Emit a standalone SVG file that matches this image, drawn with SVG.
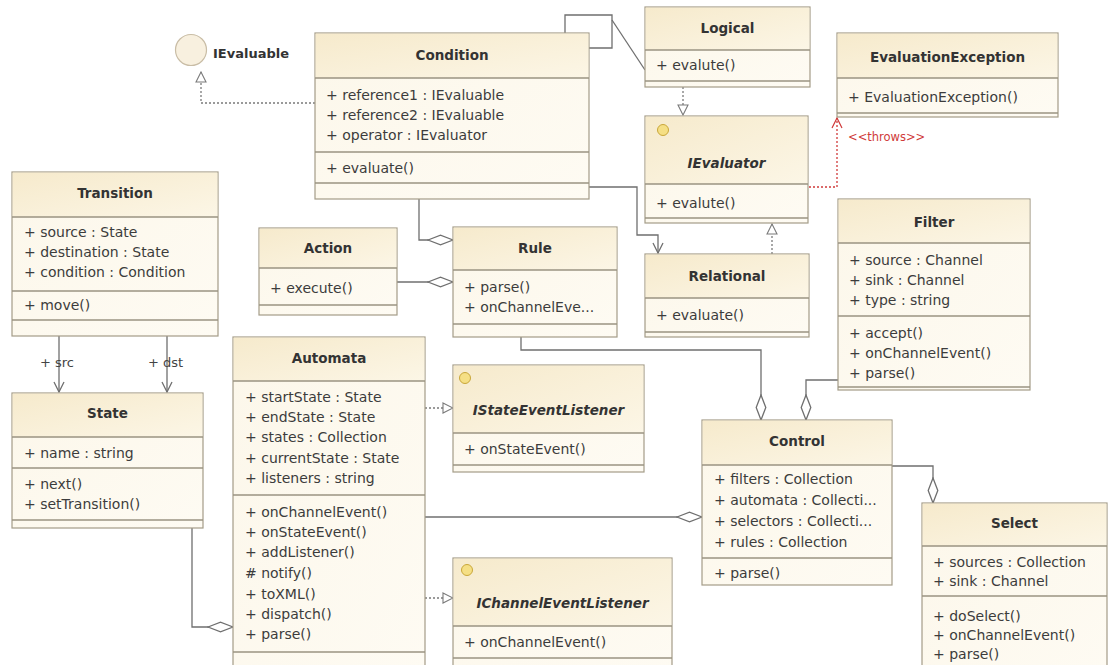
<svg xmlns="http://www.w3.org/2000/svg" width="1108" height="665" viewBox="0 0 1108 665">
<defs>
<linearGradient id="head" x1="0" y1="0" x2="1" y2="1"><stop offset="0" stop-color="#f6eacc"/><stop offset="1" stop-color="#fcf6e6"/></linearGradient>
<linearGradient id="body" x1="0" y1="0" x2="1" y2="1"><stop offset="0" stop-color="#fcf7ea"/><stop offset="1" stop-color="#fefbf3"/></linearGradient>
<marker id="open" markerUnits="userSpaceOnUse" viewBox="0 0 12 12" markerWidth="12" markerHeight="12" refX="11" refY="6" orient="auto"><path d="M1,1 L11,6 L1,11" fill="none" stroke="#6f6f6f" stroke-width="1.3"/></marker>
<marker id="tri" markerUnits="userSpaceOnUse" viewBox="0 0 12 12" markerWidth="12" markerHeight="12" refX="11" refY="6" orient="auto"><path d="M1,1 L11,6 L1,11 Z" fill="#fff" stroke="#7a7a7a" stroke-width="1.1"/></marker>
<marker id="dia" markerUnits="userSpaceOnUse" viewBox="0 0 27 12" markerWidth="27" markerHeight="12" refX="26" refY="6" orient="auto"><path d="M1,6 L13.5,1.2 L26,6 L13.5,10.8 Z" fill="#fff" stroke="#6f6f6f" stroke-width="1.3"/></marker>
<marker id="redopen" markerUnits="userSpaceOnUse" viewBox="0 0 12 12" markerWidth="12" markerHeight="12" refX="11" refY="6" orient="auto"><path d="M1,1 L11,6 L1,11" fill="none" stroke="#d03a3a" stroke-width="1.2"/></marker>
</defs>
<style>
.box{fill:url(#body);stroke:#a49c88;stroke-width:1.2}
.hdr{fill:url(#head)}
.sep{stroke:#9a9382;stroke-width:1.6}
.t{font-family:"DejaVu Sans",Verdana,sans-serif;font-size:13.5px;font-weight:bold;fill:#333;text-anchor:middle}
.ti{font-family:"DejaVu Sans",Verdana,sans-serif;font-size:13.5px;font-weight:bold;font-style:italic;fill:#333;text-anchor:middle}
.m{font-family:"DejaVu Sans",Verdana,sans-serif;font-size:14px;fill:#3c3c3c}
.lbl{font-family:"DejaVu Sans",Verdana,sans-serif;font-size:13px;fill:#444}
.icon{fill:#f5df85;stroke:#c9a73a;stroke-width:1}
.c{fill:none;stroke:#6f6f6f;stroke-width:1.3}
.d{fill:none;stroke:#7a7a7a;stroke-width:1.3;stroke-dasharray:2 2}
.r{fill:none;stroke:#d03a3a;stroke-width:1.3;stroke-dasharray:2 2}
.thr{font-family:"DejaVu Sans",Verdana,sans-serif;font-size:11.5px;fill:#d03a3a}
</style>
<rect width="1108" height="665" fill="#fff"/>

<g id="connectors">
  <path class="d" d="M315,103 H201 V72" marker-end="url(#tri)"/>
  <path class="c" d="M565,33 V15 H612 V48 H589"/>
  <path class="c" d="M612,20 L645,70" stroke-width="1"/>
  <path class="d" d="M683,87 V115" marker-end="url(#tri)"/>
  <path class="d" d="M772,254 V224" marker-end="url(#tri)"/>
  <path class="r" d="M773,187 H837 V118" marker-end="url(#redopen)"/>
  <rect x="770" y="184.5" width="5" height="5" fill="#c8102e"/>
  <path class="c" d="M589,187 H637 V235 H658 V253" marker-end="url(#open)"/>
  <path class="c" d="M419,199 V240 H453" marker-end="url(#dia)"/>
  <path class="c" d="M397,282 H453" marker-end="url(#dia)"/>
  <path class="c" d="M59,336 V392" marker-end="url(#open)"/>
  <path class="c" d="M167,336 V392" marker-end="url(#open)"/>
  <path class="c" d="M192,528 V627 H233" marker-end="url(#dia)"/>
  <path class="d" d="M425,408 H453" marker-end="url(#tri)"/>
  <path class="d" d="M425,598 H453" marker-end="url(#tri)"/>
  <path class="c" d="M425,517 H702" marker-end="url(#dia)"/>
  <path class="c" d="M521,337 V350 H761 V420" marker-end="url(#dia)"/>
  <path class="c" d="M838,380 H806 V420" marker-end="url(#dia)"/>
  <path class="c" d="M892,466 H933 V503" marker-end="url(#dia)"/>
  <text class="lbl" x="40" y="367">+ src</text>
  <text class="lbl" x="148" y="367">+ dst</text>
  <text class="thr" x="848" y="141">&lt;&lt;throws&gt;&gt;</text>
</g>

<g id="IEvaluable">
  <circle cx="191" cy="50" r="15.5" fill="#f8f0df" stroke="#c9bda6" stroke-width="1.2"/>
  <text class="t" x="213" y="58" style="text-anchor:start;font-size:13px">IEvaluable</text>
</g>

<g id="Condition">
  <rect class="box" x="315" y="33" width="274" height="166"/>
  <rect class="hdr" x="315.6" y="33.6" width="272.8" height="44.4"/>
  <line class="sep" x1="315" y1="78" x2="589" y2="78"/>
  <line class="sep" x1="315" y1="152" x2="589" y2="152"/>
  <line class="sep" x1="315" y1="183" x2="589" y2="183"/>
  <text class="t" x="452" y="60">Condition</text>
  <text class="m" x="326" y="100">+ reference1 : IEvaluable</text>
  <text class="m" x="326" y="120">+ reference2 : IEvaluable</text>
  <text class="m" x="326" y="140">+ operator : IEvaluator</text>
  <text class="m" x="326" y="173">+ evaluate()</text>
</g>

<g id="Logical">
  <rect class="box" x="645" y="7" width="165" height="80"/>
  <rect class="hdr" x="645.6" y="7.6" width="163.8" height="42.4"/>
  <line class="sep" x1="645" y1="50" x2="810" y2="50"/>
  <line class="sep" x1="645" y1="81" x2="810" y2="81"/>
  <text class="t" x="727.5" y="33">Logical</text>
  <text class="m" x="656" y="70">+ evalute()</text>
</g>

<g id="EvaluationException">
  <rect class="box" x="837" y="33" width="221" height="84"/>
  <rect class="hdr" x="837.6" y="33.6" width="219.8" height="44.4"/>
  <line class="sep" x1="837" y1="78" x2="1058" y2="78"/>
  <line class="sep" x1="837" y1="113" x2="1058" y2="113"/>
  <text class="t" x="947.5" y="62">EvaluationException</text>
  <text class="m" x="848" y="102">+ EvaluationException()</text>
</g>

<g id="IEvaluator">
  <rect class="box" x="645" y="116" width="163" height="107"/>
  <rect class="hdr" x="645.6" y="116.6" width="161.8" height="67.4"/>
  <line class="sep" x1="645" y1="184" x2="808" y2="184"/>
  <line class="sep" x1="645" y1="218" x2="808" y2="218"/>
  <circle class="icon" cx="663" cy="130" r="5.5"/>
  <text class="ti" x="726.5" y="168">IEvaluator</text>
  <text class="m" x="656" y="208">+ evalute()</text>
</g>

<g id="Transition">
  <rect class="box" x="12" y="172" width="206" height="164"/>
  <rect class="hdr" x="12.6" y="172.6" width="204.8" height="44.4"/>
  <line class="sep" x1="12" y1="217" x2="218" y2="217"/>
  <line class="sep" x1="12" y1="291" x2="218" y2="291"/>
  <line class="sep" x1="12" y1="320" x2="218" y2="320"/>
  <text class="t" x="115" y="198">Transition</text>
  <text class="m" x="24" y="237">+ source : State</text>
  <text class="m" x="24" y="257">+ destination : State</text>
  <text class="m" x="24" y="277">+ condition : Condition</text>
  <text class="m" x="24" y="310">+ move()</text>
</g>

<g id="Action">
  <rect class="box" x="259" y="228" width="138" height="87"/>
  <rect class="hdr" x="259.6" y="228.6" width="136.8" height="39.4"/>
  <line class="sep" x1="259" y1="268" x2="397" y2="268"/>
  <line class="sep" x1="259" y1="305" x2="397" y2="305"/>
  <text class="t" x="328" y="253">Action</text>
  <text class="m" x="270" y="293">+ execute()</text>
</g>

<g id="Rule">
  <rect class="box" x="453" y="227" width="164" height="110"/>
  <rect class="hdr" x="453.6" y="227.6" width="162.8" height="42.4"/>
  <line class="sep" x1="453" y1="270" x2="617" y2="270"/>
  <line class="sep" x1="453" y1="324" x2="617" y2="324"/>
  <text class="t" x="535" y="253">Rule</text>
  <text class="m" x="464" y="292">+ parse()</text>
  <text class="m" x="464" y="312">+ onChannelEve...</text>
</g>

<g id="Relational">
  <rect class="box" x="645" y="254" width="164" height="83"/>
  <rect class="hdr" x="645.6" y="254.6" width="162.8" height="43.4"/>
  <line class="sep" x1="645" y1="298" x2="809" y2="298"/>
  <line class="sep" x1="645" y1="332" x2="809" y2="332"/>
  <text class="t" x="727" y="281">Relational</text>
  <text class="m" x="656" y="320">+ evaluate()</text>
</g>

<g id="Filter">
  <rect class="box" x="838" y="199" width="192" height="191"/>
  <rect class="hdr" x="838.6" y="199.6" width="190.8" height="43.4"/>
  <line class="sep" x1="838" y1="243" x2="1030" y2="243"/>
  <line class="sep" x1="838" y1="316" x2="1030" y2="316"/>
  <line class="sep" x1="838" y1="387" x2="1030" y2="387"/>
  <text class="t" x="934" y="227">Filter</text>
  <text class="m" x="849" y="265">+ source : Channel</text>
  <text class="m" x="849" y="285">+ sink : Channel</text>
  <text class="m" x="849" y="305">+ type : string</text>
  <text class="m" x="849" y="338">+ accept()</text>
  <text class="m" x="849" y="358">+ onChannelEvent()</text>
  <text class="m" x="849" y="378">+ parse()</text>
</g>

<g id="State">
  <rect class="box" x="12" y="393" width="191" height="135"/>
  <rect class="hdr" x="12.6" y="393.6" width="189.8" height="43.4"/>
  <line class="sep" x1="12" y1="437" x2="203" y2="437"/>
  <line class="sep" x1="12" y1="468" x2="203" y2="468"/>
  <line class="sep" x1="12" y1="520" x2="203" y2="520"/>
  <text class="t" x="107.5" y="418">State</text>
  <text class="m" x="24" y="458">+ name : string</text>
  <text class="m" x="24" y="489">+ next()</text>
  <text class="m" x="24" y="509">+ setTransition()</text>
</g>

<g id="Automata">
  <rect class="box" x="233" y="337" width="192" height="345"/>
  <rect class="hdr" x="233.6" y="337.6" width="190.8" height="43.4"/>
  <line class="sep" x1="233" y1="381" x2="425" y2="381"/>
  <line class="sep" x1="233" y1="495" x2="425" y2="495"/>
  <line class="sep" x1="233" y1="652" x2="425" y2="652"/>
  <text class="t" x="329" y="363">Automata</text>
  <text class="m" x="245" y="402">+ startState : State</text>
  <text class="m" x="245" y="422">+ endState : State</text>
  <text class="m" x="245" y="442">+ states : Collection</text>
  <text class="m" x="245" y="463">+ currentState : State</text>
  <text class="m" x="245" y="483">+ listeners : string</text>
  <text class="m" x="245" y="517">+ onChannelEvent()</text>
  <text class="m" x="245" y="537">+ onStateEvent()</text>
  <text class="m" x="245" y="557">+ addListener()</text>
  <text class="m" x="245" y="578"># notify()</text>
  <text class="m" x="245" y="599">+ toXML()</text>
  <text class="m" x="245" y="619">+ dispatch()</text>
  <text class="m" x="245" y="639">+ parse()</text>
</g>

<g id="IStateEventListener">
  <rect class="box" x="453" y="365" width="191" height="107"/>
  <rect class="hdr" x="453.6" y="365.6" width="189.8" height="67.4"/>
  <line class="sep" x1="453" y1="433" x2="644" y2="433"/>
  <line class="sep" x1="453" y1="465" x2="644" y2="465"/>
  <circle class="icon" cx="465" cy="378" r="5.5"/>
  <text class="ti" x="548.5" y="415">IStateEventListener</text>
  <text class="m" x="464" y="454">+ onStateEvent()</text>
</g>

<g id="IChannelEventListener">
  <rect class="box" x="453" y="558" width="219" height="122"/>
  <rect class="hdr" x="453.6" y="558.6" width="217.8" height="67.4"/>
  <line class="sep" x1="453" y1="626" x2="672" y2="626"/>
  <line class="sep" x1="453" y1="658" x2="672" y2="658"/>
  <circle class="icon" cx="467" cy="570" r="5.5"/>
  <text class="ti" x="562.5" y="608">IChannelEventListener</text>
  <text class="m" x="464" y="647">+ onChannelEvent()</text>
</g>

<g id="Control">
  <rect class="box" x="702" y="420" width="190" height="165"/>
  <rect class="hdr" x="702.6" y="420.6" width="188.8" height="44.4"/>
  <line class="sep" x1="702" y1="465" x2="892" y2="465"/>
  <line class="sep" x1="702" y1="558" x2="892" y2="558"/>
  <text class="t" x="797" y="446">Control</text>
  <text class="m" x="714" y="484">+ filters : Collection</text>
  <text class="m" x="714" y="505">+ automata : Collecti...</text>
  <text class="m" x="714" y="526">+ selectors : Collecti...</text>
  <text class="m" x="714" y="547">+ rules : Collection</text>
  <text class="m" x="714" y="578">+ parse()</text>
</g>

<g id="Select">
  <rect class="box" x="922" y="503" width="185" height="180"/>
  <rect class="hdr" x="922.6" y="503.6" width="183.8" height="42.4"/>
  <line class="sep" x1="922" y1="546" x2="1107" y2="546"/>
  <line class="sep" x1="922" y1="596" x2="1107" y2="596"/>
  <text class="t" x="1014.5" y="528">Select</text>
  <text class="m" x="933" y="567">+ sources : Collection</text>
  <text class="m" x="933" y="586">+ sink : Channel</text>
  <text class="m" x="933" y="621">+ doSelect()</text>
  <text class="m" x="933" y="640">+ onChannelEvent()</text>
  <text class="m" x="933" y="659">+ parse()</text>
</g>
</svg>
